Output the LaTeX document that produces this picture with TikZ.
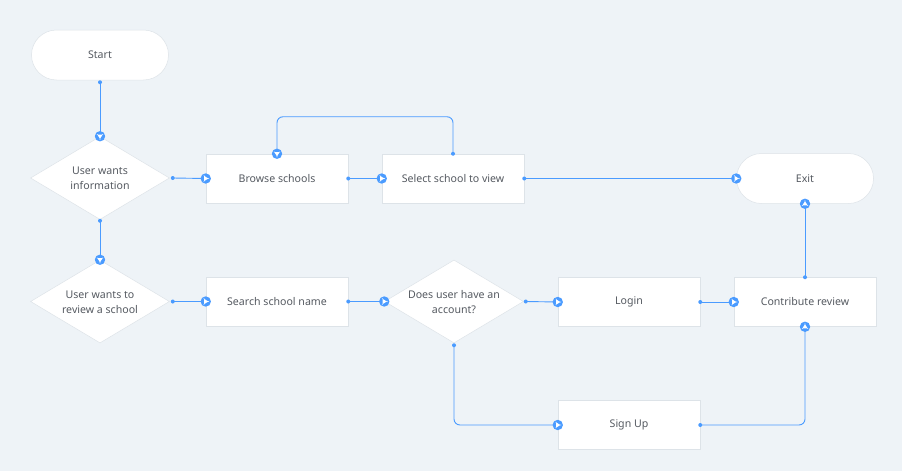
\documentclass[tikz,border=0pt]{standalone}
\usepackage{fontspec}
\setmainfont{Noto Sans}
\usetikzlibrary{shapes.geometric,decorations.markings}
\definecolor{bg}{HTML}{EEF3F7}
\definecolor{flowblue}{HTML}{4A9BFF}
\definecolor{txt}{HTML}{555A61}
\definecolor{edge}{HTML}{DDE3E8}
\newcommand{\dtext}[1]{\makebox[0pt]{\smash{\raisebox{-4pt}{\begin{tabular}{@{}c@{}}#1\end{tabular}}}}}
\tikzset{
  base/.style={fill=white,draw=edge,line width=0.5pt,text=txt,font=\fontsize{10.6}{15}\selectfont,align=center,inner sep=0pt},
  pill/.style={base,rounded corners=25pt,minimum width=137pt,minimum height=50pt},
  box/.style={base,rectangle,minimum width=142pt,minimum height=49pt},
  dec/.style={base,diamond,minimum width=139pt,minimum height=83pt},
  flow/.style={draw=flowblue,line width=0.9pt,rounded corners=6pt,
    postaction={decorate,decoration={markings,
      mark=at position 0 with {\fill[flowblue] (0,0) circle (2pt);},
      mark=at position 1 with {\fill[flowblue] (0,0) circle (5.2pt);
        \fill[white] (2.6pt,0pt)--(-1.6pt,2.6pt)--(-1.6pt,-2.6pt)--cycle;}}}}
}
\begin{document}
\begin{tikzpicture}[x=1pt,y=-1pt]
\fill[bg] (0,0) rectangle (902,471);
\useasboundingbox (0,0) rectangle (902,471);
\node[pill] (start) at (100,55) {Start};
\node[dec] (d1) at (100,178) {\dtext{User wants\\information}};
\node[dec] (d2) at (100,301.5) {\dtext{User wants to\\review a school}};
\node[box] (browse) at (277,178.5) {Browse schools};
\node[box] (select) at (453,178.5) {Select school to view};
\node[pill] (exit) at (805,178.5) {Exit};
\node[box] (search) at (277,301.5) {Search school name};
\node[dec] (d3) at (454,301.5) {\dtext{Does user have an\\account?}};
\node[box] (login) at (629,302) {Login};
\node[box] (contrib) at (805,302) {Contribute review};
\node[box] (signup) at (629,425) {Sign Up};

\draw[flow] ([yshift=-2pt]start.south) -- (d1.north);
\draw[flow] ([xshift=3pt]d1.east) -- (browse.west);
\draw[flow] ([yshift=-1pt]d1.south) -- (d2.north);
\draw[flow] ([xshift=3pt]d2.east) -- (search.west);
\draw[flow] (browse.east) -- (select.west);
\draw[flow] (select.north) -- ++(0,-37) -| (browse.north);
\draw[flow] (select.east) -- (exit.west);
\draw[flow] (search.east) -- (d3.west);
\draw[flow] ([xshift=2pt]d3.east) -- (login.west);
\draw[flow] ([yshift=-2pt]d3.south) |- (signup.west);
\draw[flow] (login.east) -- (contrib.west);
\draw[flow] (signup.east) -| (contrib.south);
\draw[flow] (contrib.north) -- (exit.south);
\end{tikzpicture}
\end{document}
